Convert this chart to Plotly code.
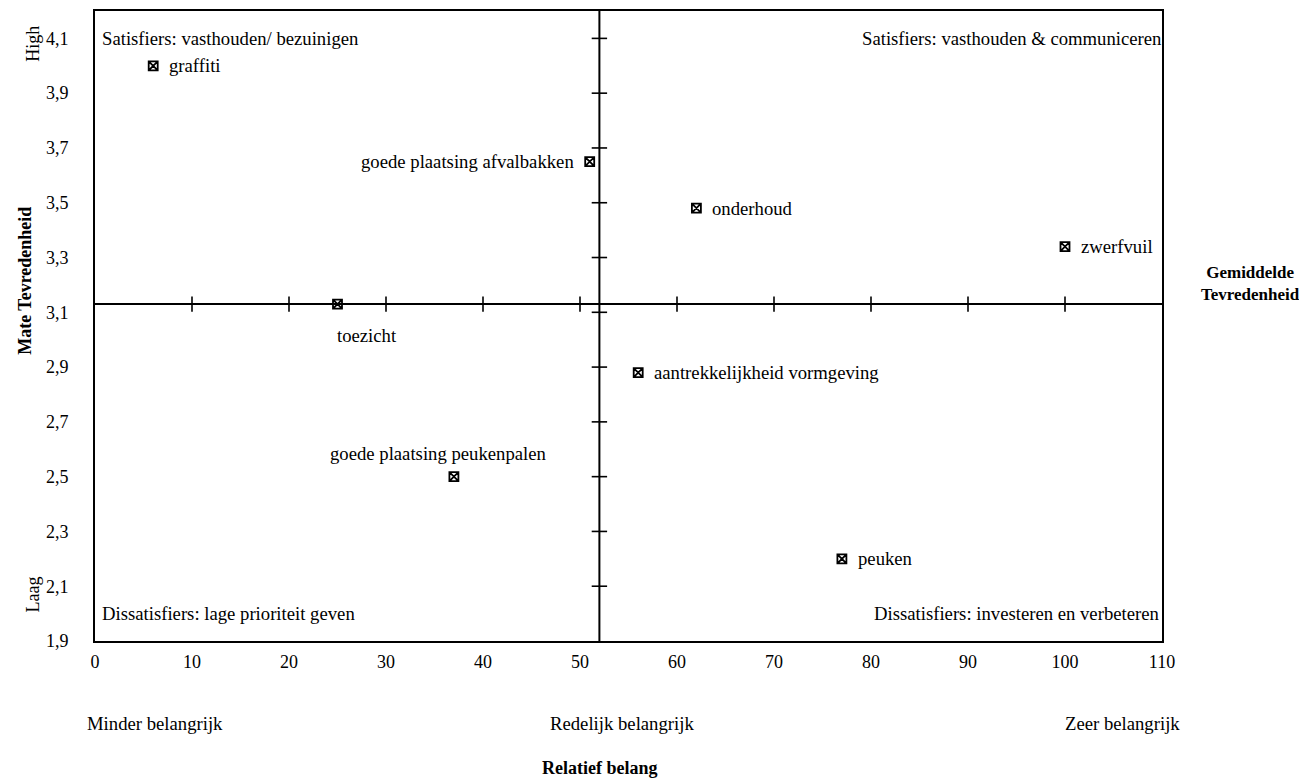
import plotly.graph_objects as go

# ---- data ----
items = ["graffiti", "goede plaatsing afvalbakken", "onderhoud", "zwerfvuil",
         "toezicht", "aantrekkelijkheid vormgeving", "goede plaatsing peukenpalen", "peuken"]
belang = [6, 51, 62, 100, 25, 56, 37, 77]
tevredenheid = [4.0, 3.65, 3.48, 3.34, 3.13, 2.88, 2.5, 2.2]

mean_belang = 52
mean_tevredenheid = 3.13

x_ticks = [0, 10, 20, 30, 40, 50, 60, 70, 80, 90, 100, 110]
y_ticks = [1.9, 2.1, 2.3, 2.5, 2.7, 2.9, 3.1, 3.3, 3.5, 3.7, 3.9, 4.1]
cross_x_ticks = [10, 20, 30, 40, 50, 60, 70, 80, 90, 100]
cross_y_ticks = [2.1, 2.3, 2.5, 2.7, 2.9, 3.1, 3.3, 3.5, 3.7, 3.9, 4.1]

quadrant_labels = ["Satisfiers: vasthouden/ bezuinigen",
                   "Satisfiers: vasthouden & communiceren",
                   "Dissatisfiers: lage prioriteit geven",
                   "Dissatisfiers: investeren en verbeteren"]
x_cat_labels = ["Minder belangrijk", "Redelijk belangrijk", "Zeer belangrijk"]

X_RANGE = [0, 110]
Y_RANGE = [1.9, 4.2]

FONT = "Liberation Serif, Times New Roman, serif"
FS = 18.7

# label placement (style, not data)
label_style = {
    "graffiti": dict(xanchor="left", xshift=14, yshift=0),
    "goede plaatsing afvalbakken": dict(xanchor="right", xshift=-14, yshift=0),
    "onderhoud": dict(xanchor="left", xshift=14, yshift=0),
    "zwerfvuil": dict(xanchor="left", xshift=14, yshift=0),
    "toezicht": dict(xanchor="left", xshift=-3, yshift=-31),
    "aantrekkelijkheid vormgeving": dict(xanchor="left", xshift=14, yshift=0),
    "goede plaatsing peukenpalen": dict(xanchor="center", xshift=-15, yshift=23),
    "peuken": dict(xanchor="left", xshift=14, yshift=0),
}

def tfont(size=FS):
    return dict(family=FONT, size=size, color="black")

fig = go.Figure()

# crossing lines
fig.add_shape(type="line", x0=X_RANGE[0], x1=X_RANGE[1], y0=mean_tevredenheid, y1=mean_tevredenheid,
              line=dict(color="black", width=2), layer="below")
fig.add_shape(type="line", x0=mean_belang, x1=mean_belang, y0=Y_RANGE[0], y1=Y_RANGE[1],
              line=dict(color="black", width=2), layer="below")

# tick marks on crossing lines
fig.add_trace(go.Scatter(x=cross_x_ticks, y=[mean_tevredenheid] * len(cross_x_ticks), mode="markers",
                         marker=dict(symbol="line-ns", size=11, line=dict(color="black", width=1.6)),
                         hoverinfo="skip", showlegend=False))
fig.add_trace(go.Scatter(x=[mean_belang] * len(cross_y_ticks), y=cross_y_ticks, mode="markers",
                         marker=dict(symbol="line-ew", size=11, line=dict(color="black", width=1.6)),
                         hoverinfo="skip", showlegend=False))

# data points
fig.add_trace(go.Scatter(x=belang, y=tevredenheid, mode="markers", text=items,
                         marker=dict(symbol="square-x-open", size=9, color="black",
                                     line=dict(color="black", width=1.8)),
                         showlegend=False))

for name, xv, yv in zip(items, belang, tevredenheid):
    st = label_style[name]
    fig.add_annotation(x=xv, y=yv, text=name, showarrow=False, xanchor=st["xanchor"], yanchor="middle",
                       xshift=st["xshift"], yshift=st["yshift"], font=tfont())

# quadrant labels
fig.add_annotation(x=0, y=4.1, xref="x", yref="y", text=quadrant_labels[0], showarrow=False,
                   xanchor="left", yanchor="middle", xshift=5, font=tfont())
fig.add_annotation(x=110, y=4.1, xref="x", yref="y", text=quadrant_labels[1], showarrow=False,
                   xanchor="right", yanchor="middle", xshift=2, font=tfont())
fig.add_annotation(x=0, y=2.0, xref="x", yref="y", text=quadrant_labels[2], showarrow=False,
                   xanchor="left", yanchor="middle", xshift=5, font=tfont())
fig.add_annotation(x=110, y=2.0, xref="x", yref="y", text=quadrant_labels[3], showarrow=False,
                   xanchor="right", yanchor="middle", xshift=0, font=tfont())

# category labels under x axis
fig.add_annotation(x=0, y=0, xref="x", yref="paper", text=x_cat_labels[0], showarrow=False,
                   xanchor="left", yanchor="middle", xshift=-10, yshift=-82, font=tfont())
fig.add_annotation(x=mean_belang, y=0, xref="x", yref="paper", text=x_cat_labels[1], showarrow=False,
                   xanchor="center", yanchor="middle", xshift=23, yshift=-82, font=tfont())
fig.add_annotation(x=110, y=0, xref="x", yref="paper", text=x_cat_labels[2], showarrow=False,
                   xanchor="right", yanchor="middle", xshift=20, yshift=-82, font=tfont())

# axis titles
fig.add_annotation(x=mean_belang, y=0, xref="x", yref="paper", text="<b>Relatief belang</b>", showarrow=False,
                   xanchor="center", yanchor="middle", yshift=-127, font=tfont(18))
fig.add_annotation(x=0, y=3.215, xref="paper", yref="y", text="<b>Mate Tevredenheid</b>", showarrow=False,
                   xanchor="center", yanchor="middle", xshift=-70, textangle=-90, font=tfont(18))
fig.add_annotation(x=0, y=4.08, xref="paper", yref="y", text="High", showarrow=False,
                   xanchor="center", yanchor="middle", xshift=-62, textangle=-90, font=tfont(18))
fig.add_annotation(x=0, y=2.07, xref="paper", yref="y", text="Laag", showarrow=False,
                   xanchor="center", yanchor="middle", xshift=-62, textangle=-90, font=tfont(18))
fig.add_annotation(x=1, y=mean_tevredenheid, xref="paper", yref="y", text="<b>Gemiddelde<br>Tevredenheid</b>",
                   showarrow=False, xanchor="center", yanchor="middle", xshift=88, yshift=21, font=tfont(17))

fig.update_xaxes(range=X_RANGE, tickvals=x_ticks, ticks="", showgrid=False, zeroline=False,
                 showline=True, linecolor="black", linewidth=2, mirror=True,
                 tickfont=tfont(18), ticklabelstandoff=3)
fig.update_yaxes(range=Y_RANGE, tickvals=y_ticks, tickformat=".1f", ticks="", showgrid=False, zeroline=False,
                 showline=True, linecolor="black", linewidth=2, mirror=True,
                 tickfont=tfont(18), ticklabelstandoff=21)

fig.update_layout(width=1299, height=770, separators=", ",
                  margin=dict(l=87, r=145, t=1, b=137),
                  plot_bgcolor="white", paper_bgcolor="white",
                  font=tfont())

fig.write_html("out.html")
